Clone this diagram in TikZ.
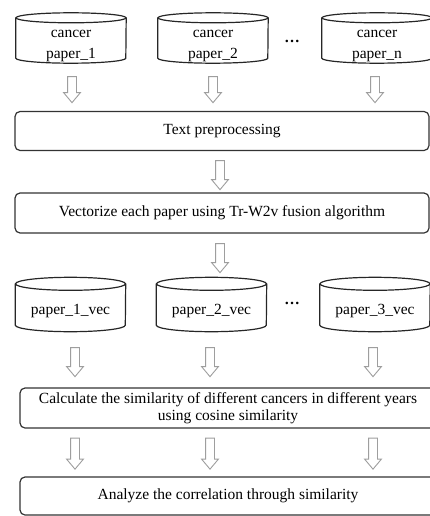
\documentclass[tikz,border=0pt]{standalone}
\usepackage{fontspec}
\setmainfont{Liberation Serif}
\usetikzlibrary{shapes.arrows}
\tikzset{
  cylline/.style={draw=black!85, line width=1.2pt},
  cylbody/.style={inner sep=0pt, minimum width=110pt},
  cyltext/.style={inner sep=0pt, align=center, anchor=base, font=\fontsize{15.5}{21}\selectfont},
  flowbox/.style={draw=black!80, line width=1.2pt, rounded corners=5pt, inner sep=0pt,
    align=center, font=\fontsize{15.5}{17}\selectfont},
  harrow/.style={single arrow, draw=black!38, line width=0.9pt, fill=white,
    minimum height=#1, minimum width=16pt, single arrow head extend=4pt,
    single arrow tip angle=80, inner sep=4pt, rotate=-90, anchor=center},
  dotsnode/.style={inner sep=0pt, font=\fontsize{15.5}{17}\selectfont\bfseries},
}
\newcommand\cylout[2]{% #1 node name, #2 y radius
  \draw[cylline] (#1.north) ellipse [x radius=55pt, y radius=#2pt];
  \draw[cylline] (#1.north west) -- (#1.south west)
    arc[start angle=180, end angle=360, x radius=55pt, y radius=#2pt] -- (#1.north east);
}
\begin{document}
\begin{tikzpicture}[x=1pt,y=1pt]
\useasboundingbox (0,0) rectangle (430,-516);
\clip (0,0) rectangle (430,-516);

% top row cylinders (ellipse centres y=18 and y=58)
\node[cylbody, minimum height=40pt] (c1) at (71,-38) {};
\node[cylbody, minimum height=40pt] (c2) at (213,-38) {};
\node[cylbody, minimum height=40pt] (c3) at (377,-38) {};
\cylout{c1}{5}
\cylout{c2}{5}
\cylout{c3}{5}
\node[cyltext] (c1t) at (71,-59) {cancer\\paper\_1};
\node[cyltext] (c2t) at (213,-59) {cancer\\paper\_2};
\node[cyltext] (c3t) at (377,-59) {cancer\\paper\_n};
\node[dotsnode] (d1) at (292,-41) {…};

% arrows row 1
\node[harrow=26pt] (a11) at (72,-87) {};
\node[harrow=26pt] (a12) at (213,-87) {};
\node[harrow=26pt] (a13) at (375,-87) {};

\node[flowbox, minimum width=414pt, minimum height=39pt] (tp) at (222,-131) {Text preprocessing};

\node[harrow=29pt] (a2) at (220,-172.5) {};

\node[flowbox, minimum width=414pt, minimum height=40pt] (vz) at (222,-213) {Vectorize each paper using Tr-W2v fusion algorithm};

\node[harrow=29pt] (a3) at (220,-255.5) {};

% vector cylinders (ellipse centres y=284 and y=325)
\node[cylbody, minimum height=41pt] (v1) at (70.5,-304.5) {};
\node[cylbody, minimum height=41pt] (v2) at (211.5,-304.5) {};
\node[cylbody, minimum height=41pt] (v3) at (375,-304.5) {};
\cylout{v1}{6.5}
\cylout{v2}{6.5}
\cylout{v3}{6.5}
\node[cyltext] (v1t) at (70.5,-314) {paper\_1\_vec};
\node[cyltext] (v2t) at (211.5,-314) {paper\_2\_vec};
\node[cyltext] (v3t) at (375,-314) {paper\_3\_vec};
\node[dotsnode] (d2) at (292,-303) {…};

% arrows row 4
\node[harrow=29pt] (a41) at (75,-359.5) {};
\node[harrow=29pt] (a42) at (210,-359.5) {};
\node[harrow=29pt] (a43) at (373,-359.5) {};

\node[flowbox, minimum width=416pt, minimum height=40pt] (cs) at (228,-408) {Calculate the similarity of different cancers in different years\\using cosine similarity};

% arrows row 5
\node[harrow=31pt] (a51) at (75,-451) {};
\node[harrow=31pt] (a52) at (210,-451) {};
\node[harrow=31pt] (a53) at (373,-451) {};

\node[flowbox, minimum width=416pt, minimum height=38pt] (an) at (228,-496) {Analyze the correlation through similarity};
\end{tikzpicture}
\end{document}
